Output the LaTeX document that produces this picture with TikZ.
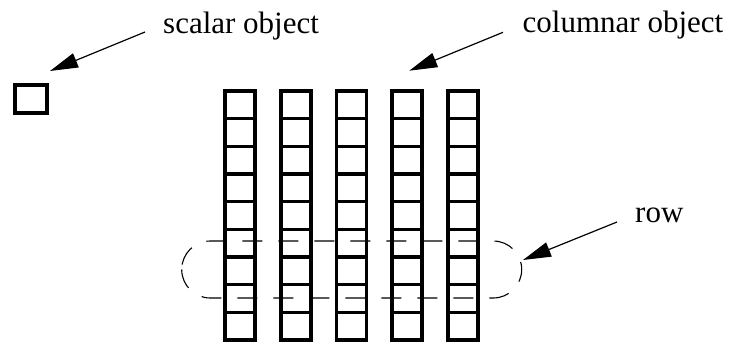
\documentclass[tikz,border=0pt]{standalone}
\usepackage{fontspec}
\setmainfont{Liberation Serif}
\usetikzlibrary{arrows.meta}
\begin{document}
\begin{tikzpicture}[x=1pt,y=-1pt,
  cellbox/.style={draw=black, line width=3.6pt, inner sep=0pt, outer sep=0pt,
    minimum width=30pt, minimum height=27.67pt, line join=miter},
  label/.style={anchor=base west, inner sep=0pt, font=\fontsize{31}{36}\selectfont},
  pointer/.style={draw=black, line width=1.2pt, -{Triangle[length=28pt,width=15pt]}},
  rowband/.style={draw=black, line width=1.1pt, dash pattern=on 20pt off 16pt,
    rounded corners=28.5pt}]
\useasboundingbox (0,0) rectangle (731,343);

% a single scalar cell
\node[cellbox, minimum width=32pt, minimum height=28pt] (scalar) at (31,99) {};

% five columns of nine cells each
\foreach \i in {0,...,4} {
  \foreach \j in {0,...,8} {
    \node[cellbox] (c-\i-\j) at ({240+55.75*\i},{91+27.67*\j+13.835}) {};
  }
}

% dashed band around two rows
\draw[rowband] (181.7,241) rectangle (521.7,298);

% labels
\node[label] (lscalar) at (163,33) {scalar object};
\node[label] (lcolumn) at (522.5,32) {columnar object};
\node[label] (lrow) at (635,222.7) {row};

% arrow ends
\coordinate (sfrom) at (145,32);
\coordinate (sto) at (50,71);
\coordinate (cfrom) at (503,32.3);
\coordinate (cto) at (409.3,70.7);
\coordinate (rfrom) at (617,222);
\coordinate (rto) at (523,260);

\draw[pointer] (sfrom) -- (sto);
\draw[pointer] (cfrom) -- (cto);
\draw[pointer] (rfrom) -- (rto);
\end{tikzpicture}
\end{document}
